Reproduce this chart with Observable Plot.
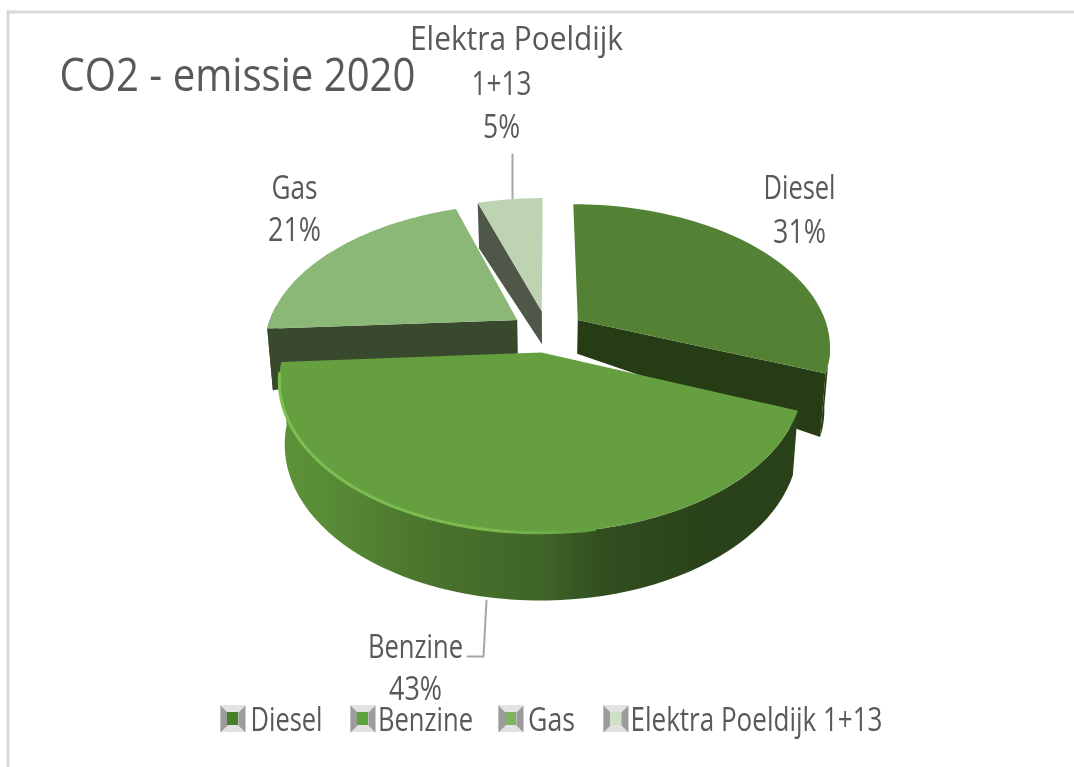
<!DOCTYPE html>
<html>
<head>
<meta charset="utf-8">
<script src="https://cdn.jsdelivr.net/npm/d3@7"></script>
<script src="https://cdn.jsdelivr.net/npm/@observablehq/plot@0.6"></script>
<style>html,body{margin:0;padding:0;background:#fff}svg{display:block;filter:blur(.45px)}</style>
</head>
<body>
<div id="chart"></div>
<script>
const categories = ["Diesel", "Benzine", "Gas", "Elektra Poeldijk 1+13"];
const shares = [31, 43, 21, 5];
const chartTitle = "CO2 - emissie 2020";

// Styles and layout, separate from the data
const topColors = ["#548235", "#659f3f", "#8bb777", "#bdd3b1"];
const wallColors = ["#263c14", "url(#wallB)", "#39492e", "#4f5748"];
const P = {x0: 547, y0: 331, f: 251, g: 140, k: 0.177, e: 0.148};
const textColor = "#595959";
const FONT = "'Open Sans',sans-serif";

// Exploded 3D pie: perspective projection of the data angles
const rad = d => d * Math.PI / 180;
const total = d3.sum(shares);
let acc = 0;
const slices = categories.map((name, i) => {
  const start = acc / total * 360; acc += shares[i];
  return {name, i, start, end: acc / total * 360};
});
function pt(s, theta, r) {
  const mid = rad((s.start + s.end) / 2), t = rad(theta);
  const u = P.e * Math.sin(mid) + r * Math.sin(t);
  const v = -P.e * Math.cos(mid) - r * Math.cos(t);
  const w = 1 - P.k * v;
  const X = P.x0 + P.f * u / w, Y = P.y0 + P.g * v / w;
  const h = 35 + 27 * r + (v < 0 ? 15 * v : 5 * v);
  return {X, Y, h, bx: X - (X - P.x0) * 0.02, by: Y + h};
}
const arc = (s, a, b) => d3.range(0, 61).map(j => pt(s, a + (b - a) * j / 60, 1));
const xy = p => [p.X, p.Y], bxy = p => [p.bx, p.by];
const top_ = s => [pt(s, s.start, 0), ...arc(s, s.start, s.end), pt(s, s.start, 0)].map(xy);
const poly = (pts, fill) => Plot.line(pts, {x: "0", y: "1", fill, stroke: "none", curve: "linear"});
const radialWall = (s, th) => {
  const a = pt(s, s.start, 0), b = pt(s, th, 1);
  return [xy(a), xy(b), bxy(b), bxy(a), xy(a)];
};
const outerWall = (s, a, b) => {
  const rim = arc(s, a, b);
  return [...rim.map(xy), ...rim.slice().reverse().map(bxy)];
};
const [D, B, G, E] = slices;

// Labels, leaders, legend
const texts = [
  {t: chartTitle, x: 237, y: 90, w: 356, s: 46},
  {t: "Elektra Poeldijk", x: 516, y: 49, w: 213, s: 32},
  {t: "1+13", x: 501, y: 94, w: 60, s: 32},
  {t: shares[3] + "%", x: 501, y: 137, w: 37, s: 32},
  {t: "Gas", x: 294, y: 198, w: 46, s: 32},
  {t: shares[2] + "%", x: 294, y: 240, w: 53, s: 32},
  {t: "Diesel", x: 799, y: 198, w: 72, s: 32},
  {t: shares[0] + "%", x: 799, y: 242, w: 53, s: 32},
  {t: "Benzine", x: 415, y: 657, w: 95, s: 32},
  {t: shares[1] + "%", x: 415, y: 699, w: 53, s: 32},
  {t: categories[0], x: 286, y: 730, w: 72, s: 32},
  {t: categories[1], x: 425, y: 730, w: 95, s: 32},
  {t: categories[2], x: 551, y: 730, w: 47, s: 32},
  {t: categories[3], x: 756, y: 730, w: 252, s: 32}
];
const swatchX = [220, 350, 498, 603];
const legendGreens = ["#46812a", "#5da23a", "#80b560", "#cfe0c6"];
const swW = 25, swTop = 705, swH = 27, swIn = 7;
const swatches = swatchX.map((x, i) => ({x1: x, x2: x + swW, y1: swTop, y2: swTop + swH, i}));
const sidePolys = swatches.flatMap(d => [
  [[d.x1, d.y1], [d.x1 + swIn, d.y1 + swIn], [d.x1 + swIn, d.y2 - swIn], [d.x1, d.y2], [d.x1, d.y1]],
  [[d.x2, d.y1], [d.x2 - swIn, d.y1 + swIn], [d.x2 - swIn, d.y2 - swIn], [d.x2, d.y2], [d.x2, d.y1]]
]);

const defs = () => d3.create("svg:defs").html(`
  <linearGradient id="wallB" x1="0" x2="1" y1="0" y2="0">
    <stop offset="0" stop-color="#5d9339"/>
    <stop offset="0.11" stop-color="#578a35"/>
    <stop offset="0.28" stop-color="#4b742d"/>
    <stop offset="0.5" stop-color="#3f6527"/>
    <stop offset="0.62" stop-color="#324f20"/>
    <stop offset="0.81" stop-color="#2a4219"/>
    <stop offset="1" stop-color="#2a4219"/>
  </linearGradient>
  <linearGradient id="bevel" x1="0" x2="1" y1="0" y2="0">
    <stop offset="0" stop-color="#7cc052"/>
    <stop offset="0.7" stop-color="#7ab84e"/>
    <stop offset="1" stop-color="#659f3f"/>
  </linearGradient>`).node();

const bevelRim = arc(B, 262, 170);

const chart = Plot.plot({
  width: 1074, height: 767, margin: 0,
  style: {background: "#fff", fontFamily: FONT},
  x: {domain: [0, 1074], axis: null},
  y: {domain: [767, 0], axis: null},
  marks: [
    defs,
    // frame
    Plot.ruleY([11.5], {x1: 7, x2: 1074, stroke: "#d9d9d9", strokeWidth: 3}),
    Plot.ruleX([7.5], {y1: 10, y2: 767, stroke: "#d9d9d9", strokeWidth: 3}),
    // leaders
    Plot.line([[512, 154], [512, 200]], {x: "0", y: "1", stroke: "#a6a6a6", strokeWidth: 2}),
    Plot.line([[486, 600], [483, 656], [467, 656]], {x: "0", y: "1", stroke: "#a6a6a6", strokeWidth: 2}),
    // Elektra
    poly(radialWall(E, E.start), wallColors[3]),
    poly(top_(E), topColors[3]),
    // Diesel
    poly(outerWall(D, 100, D.end), wallColors[0]),
    poly(radialWall(D, D.end), wallColors[0]),
    poly(top_(D), topColors[0]),
    // Gas
    poly(outerWall(G, G.start, 276), wallColors[2]),
    poly(radialWall(G, G.start), wallColors[2]),
    poly(top_(G), topColors[2]),
    // Benzine
    poly(outerWall(B, B.start, B.end), wallColors[1]),
    poly(top_(B), topColors[1]),
    Plot.line(bevelRim.map(xy), {x: "0", y: "1", stroke: "url(#bevel)", strokeWidth: 3}),
    // legend
    Plot.rect(swatches, {x1: "x1", x2: "x2", y1: "y1", y2: "y2", fill: "#e2e2e2"}),
    ...sidePolys.map(p => poly(p, "#9c9c9c")),
    Plot.rect(swatches, {x1: d => d.x1 + swIn, x2: d => d.x2 - swIn, y1: d => d.y1 + swIn, y2: d => d.y2 - swIn, fill: d => legendGreens[d.i]}),
    // text
    Plot.text(texts, {x: "x", y: "y", text: "t", fontSize: "s", fill: textColor, lineAnchor: "bottom", fontFamily: FONT})
  ]
});
d3.select(chart).selectAll("text").each(function (_, i) {
  const d = texts[i];
  if (d) d3.select(this).attr("textLength", d.w).attr("lengthAdjust", "spacingAndGlyphs");
});
document.getElementById("chart").append(chart);
</script>
</body>
</html>
